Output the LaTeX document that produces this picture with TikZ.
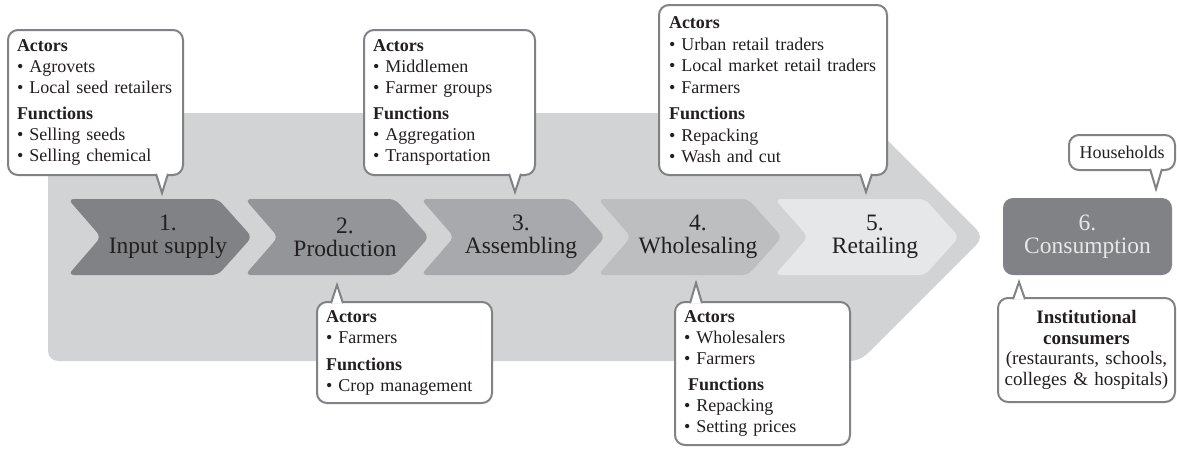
\documentclass[tikz,border=0pt]{standalone}
\usepackage{fontspec}
\setmainfont{Liberation Serif}
\usetikzlibrary{positioning, calc}

\definecolor{bggray}{HTML}{D1D3D4}
\definecolor{linegray}{HTML}{808285}
\definecolor{stepa}{HTML}{808285}
\definecolor{stepb}{HTML}{939598}
\definecolor{stepc}{HTML}{A7A9AC}
\definecolor{stepd}{HTML}{BCBEC0}
\definecolor{stepe}{HTML}{E6E7E8}
\definecolor{ink}{HTML}{231F20}

\begin{document}
\begin{tikzpicture}[x=1pt, y=-1pt,
    stage/.style={align=center, text=ink, font=\fontsize{23.5}{23}\selectfont},
    info/.style={draw=linegray, line width=2pt, fill=white, rounded corners=10pt,
        outer sep=0pt, anchor=north west, align=left, text=ink,
        font=\fontsize{18}{21}\selectfont},
    tail/.style={draw=linegray, line width=2pt, fill=white}]
    \useasboundingbox (0,0) rectangle (1177,448);

    % big background arrow
    \fill[bggray, rounded corners=10pt] (48,113) -- (860,113) -- (984,237)
        -- (860,361) -- (48,361) -- cycle;

    % stages 1-5
    \foreach \x/\c/\n/\lab in {68/stepa/1/Input supply, 245/stepb/2/Production,
            421/stepc/3/Assembling, 598/stepd/4/Wholesaling, 775/stepe/5/Retailing} {
        \fill[\c, rounded corners=6pt] (\x,199) -- ++(150,0) -- ++(34,38)
            -- ++(-34,38) -- ++(-150,0) -- ++(33,-38) -- cycle;
        \node[stage] (s\n) at (\x+100,237) {\n.\\\lab};
    }
    \node[stage, fill=stepa, rounded corners=10pt, minimum width=169pt,
        minimum height=77pt, text=stepe] (s6) at (1087.5,236.5) {6.\\Consumption};

    % callouts above
    \node[info, text width=157pt, inner xsep=9pt, minimum height=145pt] (act1) at (8,30)
        {\textbf{Actors}\\ \textbullet\ Agrovets\\ \textbullet\ Local seed retailers\\[5pt]
         \textbf{Functions}\\ \textbullet\ Selling seeds\\ \textbullet\ Selling chemical};
    \node[info, text width=153pt, inner xsep=9pt, minimum height=145pt] (act3) at (364,30)
        {\textbf{Actors}\\ \textbullet\ Middlemen\\ \textbullet\ Farmer groups\\[5pt]
         \textbf{Functions}\\ \textbullet\ Aggregation\\ \textbullet\ Transportation};
    \node[info, text width=208pt, inner xsep=10pt, minimum height=170pt,
        font=\fontsize{18}{21.5}\selectfont] (act5) at (659,5)
        {\textbf{Actors}\\ \textbullet\ Urban retail traders\\ \textbullet\ Local market retail traders\\
         \textbullet\ Farmers\\[5pt]
         \textbf{Functions}\\ \textbullet\ Repacking\\ \textbullet\ Wash and cut};
    \node[info, text width=98pt, inner xsep=4pt, inner ysep=2pt, minimum height=35pt,
        align=center] (hh) at (1069,135) {Households};

    % callouts below
    \node[info, text width=157pt, inner xsep=9pt, minimum height=101pt] (act2) at (317,302)
        {\textbf{Actors}\\ \textbullet\ Farmers\\[6pt]
         \textbf{Functions}\\ \textbullet\ Crop management};
    \node[info, text width=157pt, inner xsep=9pt, minimum height=143pt] (act4) at (675,302)
        {\textbf{Actors}\\ \textbullet\ Wholesalers\\ \textbullet\ Farmers\\[5pt]
         \hspace*{4pt}\textbf{Functions}\\ \textbullet\ Repacking\\ \textbullet\ Setting prices};
    \node[info, text width=177pt, inner xsep=0pt, minimum height=104pt, align=center,
        font=\fontsize{19}{20.5}\selectfont] (inst) at (998,298)
        {\textbf{Institutional}\\ \textbf{consumers}\\ (restaurants, schools,\\ colleges \& hospitals)};

    % pointer tips
    \coordinate (t1) at (162,193);
    \coordinate (t3) at (515,192);
    \coordinate (t5) at (866,192);
    \coordinate (th) at (1156,189);
    \coordinate (t2) at (337,285);
    \coordinate (t4) at (696,283);
    \coordinate (ti) at (1019,282);

    \foreach \b/\t in {act1/t1, act3/t3, act5/t5, hh/th}
        \filldraw[tail] ($(\t |- \b.south)+(-6,-1.2)$) -- (\t) -- ($(\t |- \b.south)+(6,-1.2)$);
    \foreach \b/\t in {act2/t2, act4/t4, inst/ti}
        \filldraw[tail] ($(\t |- \b.north)+(-6,1.2)$) -- (\t) -- ($(\t |- \b.north)+(6,1.2)$);
\end{tikzpicture}
\end{document}
